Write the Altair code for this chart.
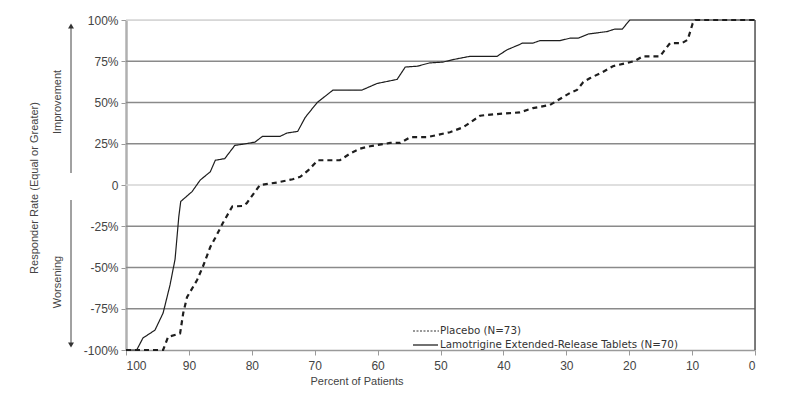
import altair as alt
import pandas as pd

# ---- data ----
series_names = ["Placebo (N=73)", "Lamotrigine Extended-Release Tablets (N=70)"]

lam_pct = [100, 98.3, 97.3, 95.4, 94.1, 93.0, 92.2, 91.6, 91.3, 89.5, 88.2, 86.6, 85.8, 84.3,
           82.7, 81.0, 79.5, 78.3, 75.5, 74.4, 72.7, 71.5, 69.6, 67.1, 62.5, 60.1, 56.9, 55.6,
           53.7, 51.7, 49.6, 48.0, 45.3, 41.0, 39.4, 37.5, 37.0, 35.3, 34.2, 31.0, 29.4, 28.1,
           26.5, 23.5, 22.3, 21.1, 19.9, 0]
lam_resp = [-100, -100, -92.7, -88, -77.6, -60.6, -45, -19, -10, -4, 3, 8, 15, 16,
            24, 25, 26, 29.5, 29.5, 31.5, 32.5, 41, 50, 57.5, 57.5, 61.5, 64, 71.5,
            72, 74, 74.5, 76, 78, 78, 82, 85, 86, 86, 87.5, 87.5, 89, 89,
            91.5, 93, 94.5, 94.5, 100, 100]

pbo_pct = [100, 94.1, 93.3, 91.4, 90.9, 90.3, 88.7, 87.8, 86.6, 85.8, 84.6, 83.1, 81.4, 80.8,
           78.7, 76.0, 73.5, 72.3, 71.0, 69.5, 66.0, 64.4, 62.8, 61.2, 58.0, 56.4, 54.8, 52.1,
           48.5, 46.4, 43.7, 42.6, 38.9, 37.4, 35.3, 32.6, 31.3, 29.4, 28.3, 27.3, 26.2, 24.2,
           22.6, 20.3, 19.1, 17.8, 15.1, 14.0, 13.5, 11.6, 10.7, 9.9, 9.5, 0]
pbo_resp = [-100, -100, -92, -90, -77.6, -68, -57.6, -49.7, -37.6, -32, -23, -13, -12.7, -11,
            0, 1.5, 3.5, 5, 9, 15, 15, 19, 22, 23.5, 25.5, 25.5, 29, 29,
            32, 35, 42, 42.5, 43.6, 44, 46.6, 48.5, 51.5, 55.8, 57.6, 62.4, 64.8, 68.5,
            72, 74, 75.2, 78, 78, 83.6, 86, 86, 88, 98, 100, 100]

y_ticks = [100, 75, 50, 25, 0, -25, -50, -75, -100]
x_ticks = [100, 90, 80, 70, 60, 50, 40, 30, 20, 10, 0]
grid_dark = [75, 50, 25, -25, -50, -75]
grid_light = [0, 100]

rows = []
for i, (x, y) in enumerate(zip(pbo_pct, pbo_resp)):
    rows.append({"series": series_names[0], "pct": x, "resp": y, "idx": i})
for i, (x, y) in enumerate(zip(lam_pct, lam_resp)):
    rows.append({"series": series_names[1], "pct": x, "resp": y, "idx": i})
df = pd.DataFrame(rows)

FONT = "Liberation Sans Narrow, Arial Narrow, Liberation Sans, sans-serif"
LFONT = "DejaVu Sans"
W, H = 629, 330

xscale = alt.Scale(domain=[100, 0], nice=False, zero=False)
yscale = alt.Scale(domain=[-100, 100], nice=False, zero=False)

one = pd.DataFrame({"a": [0]})

grid1 = alt.Chart(pd.DataFrame({"v": grid_dark})).mark_rule(color="#8a8a8a", strokeWidth=1.3).encode(
    y=alt.Y("v:Q", scale=yscale)
)
grid2 = alt.Chart(pd.DataFrame({"v": grid_light})).mark_rule(color="#d4d4d4", strokeWidth=1.5).encode(
    y=alt.Y("v:Q", scale=yscale)
)
right_border = alt.Chart(one).mark_rule(color="#555555", strokeWidth=1.5).encode(
    x=alt.X(datum=0, scale=xscale)
)

lines = alt.Chart(df).mark_line(color="#1e1e1e").encode(
    x=alt.X("pct:Q", scale=xscale,
            axis=alt.Axis(values=x_ticks, title=None, grid=False, format="d",
                          domainColor="#9a9a9a", domainWidth=1.5, tickColor="#9a9a9a",
                          tickSize=5, labelFont=FONT, labelFontSize=12, labelColor="#444444",
                          labelPadding=5)),
    y=alt.Y("resp:Q", scale=yscale,
            axis=alt.Axis(values=y_ticks, title=None, grid=False,
                          labelExpr="datum.value == 0 ? '0' : datum.value + '%'",
                          domainColor="#b0b0b0", domainWidth=2.5, tickColor="#9a9a9a",
                          tickSize=5, labelFont=FONT, labelFontSize=12, labelColor="#444444",
                          labelPadding=3)),
    detail="series:N",
    order="idx:Q",
    strokeDash=alt.StrokeDash("series:N", scale=alt.Scale(domain=series_names, range=[[5, 4], [1, 0]]), legend=None),
    strokeWidth=alt.StrokeWidth("series:N", scale=alt.Scale(domain=series_names, range=[2.2, 1.2]), legend=None),
)

# ---- annotations outside the plot ----
def vtext(txt, x, y, size=11):
    return alt.Chart(pd.DataFrame({"t": [txt]})).mark_text(
        angle=270, font=FONT, fontSize=size, color="#444444", align="center", baseline="middle"
    ).encode(text="t:N", x=alt.value(x), y=alt.value(y))

t_resp = vtext("Responder Rate (Equal or Greater)", -91, 168)
t_imp = vtext("Improvement", -68, 82)
t_wor = vtext("Worsening", -68, 262)

arrow_up = alt.Chart(one).mark_rule(color="#444444", strokeWidth=1).encode(
    x=alt.value(-55), y=alt.value(6), y2=alt.value(153))
head_up = alt.Chart(one).mark_point(shape="triangle-up", filled=True, size=35, color="#333333", opacity=1).encode(
    x=alt.value(-55), y=alt.value(6))
arrow_dn = alt.Chart(one).mark_rule(color="#444444", strokeWidth=1).encode(
    x=alt.value(-55), y=alt.value(180), y2=alt.value(324))
head_dn = alt.Chart(one).mark_point(shape="triangle-down", filled=True, size=35, color="#333333", opacity=1).encode(
    x=alt.value(-55), y=alt.value(325))

x_title = alt.Chart(pd.DataFrame({"t": ["Percent of Patients"]})).mark_text(
    font=FONT, fontSize=11, color="#444444", align="center", baseline="middle"
).encode(text="t:N", x=alt.value(231), y=alt.value(362))

# ---- legend ----
leg_sym_p = alt.Chart(one).mark_rule(color="#333333", strokeWidth=1, strokeDash=[2, 1.5]).encode(
    x=alt.value(287), x2=alt.value(313), y=alt.value(311))
leg_sym_l = alt.Chart(one).mark_rule(color="#111111", strokeWidth=1.2).encode(
    x=alt.value(287), x2=alt.value(312), y=alt.value(325))
leg_txt_p = alt.Chart(pd.DataFrame({"t": [series_names[0]]})).mark_text(
    font=LFONT, fontSize=10.3, color="#333333", align="left", baseline="middle"
).encode(text="t:N", x=alt.value(314), y=alt.value(311))
leg_txt_l = alt.Chart(pd.DataFrame({"t": [series_names[1]]})).mark_text(
    font=LFONT, fontSize=10.3, color="#333333", align="left", baseline="middle"
).encode(text="t:N", x=alt.value(314), y=alt.value(325))

chart = alt.layer(
    grid2, grid1, right_border, lines,
    t_resp, t_imp, t_wor, arrow_up, head_up, arrow_dn, head_dn, x_title,
    leg_sym_p, leg_sym_l, leg_txt_p, leg_txt_l
).properties(
    width=W, height=H,
    autosize=alt.AutoSizeParams(type="none"),
    padding={"left": 118, "top": 12, "right": 40, "bottom": 50},
).configure_view(stroke=None).configure(background="white")

chart.save("out.html", embed_options={"renderer": "svg", "actions": False})
